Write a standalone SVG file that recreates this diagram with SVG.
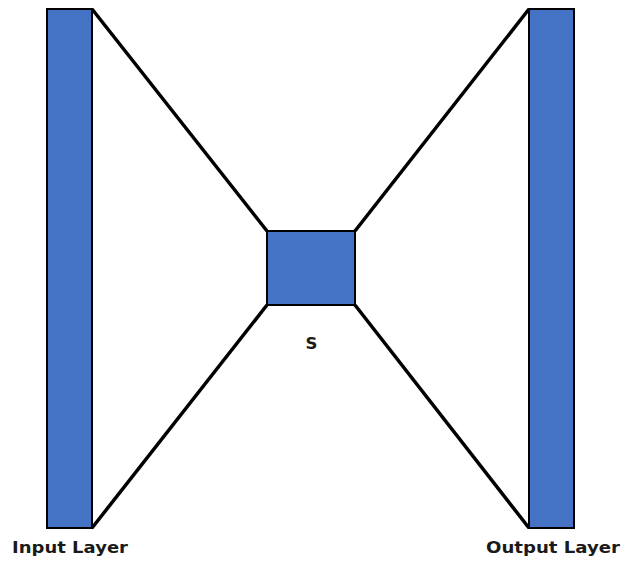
<svg xmlns="http://www.w3.org/2000/svg" width="626" height="565" viewBox="0 0 626 565">
<style>
.box{fill:#4472C4;stroke:#000;stroke-width:2}
.ln{stroke:#000;stroke-width:3.5;fill:none}
.lbl{font-family:"DejaVu Sans",sans-serif;font-weight:bold;font-size:16.5px;fill:#1a1a1a}
</style>
<rect width="626" height="565" fill="#fff"/>
<g id="connectors">
<line class="ln" x1="92" y1="9" x2="267" y2="231"/>
<line class="ln" x1="92" y1="528" x2="267" y2="305"/>
<line class="ln" x1="355" y1="231" x2="529" y2="9"/>
<line class="ln" x1="355" y1="305" x2="529" y2="528"/>
</g>
<g id="input">
<rect class="box" x="47" y="9" width="45" height="519"/>
<text class="lbl" x="12" y="553" textLength="116" lengthAdjust="spacingAndGlyphs">Input Layer</text>
</g>
<g id="s">
<rect class="box" x="267" y="231" width="88" height="74"/>
<text class="lbl" x="311.5" y="349" text-anchor="middle">S</text>
</g>
<g id="output">
<rect class="box" x="529" y="9" width="45" height="519"/>
<text class="lbl" x="486" y="553" textLength="134" lengthAdjust="spacingAndGlyphs">Output Layer</text>
</g>
</svg>
